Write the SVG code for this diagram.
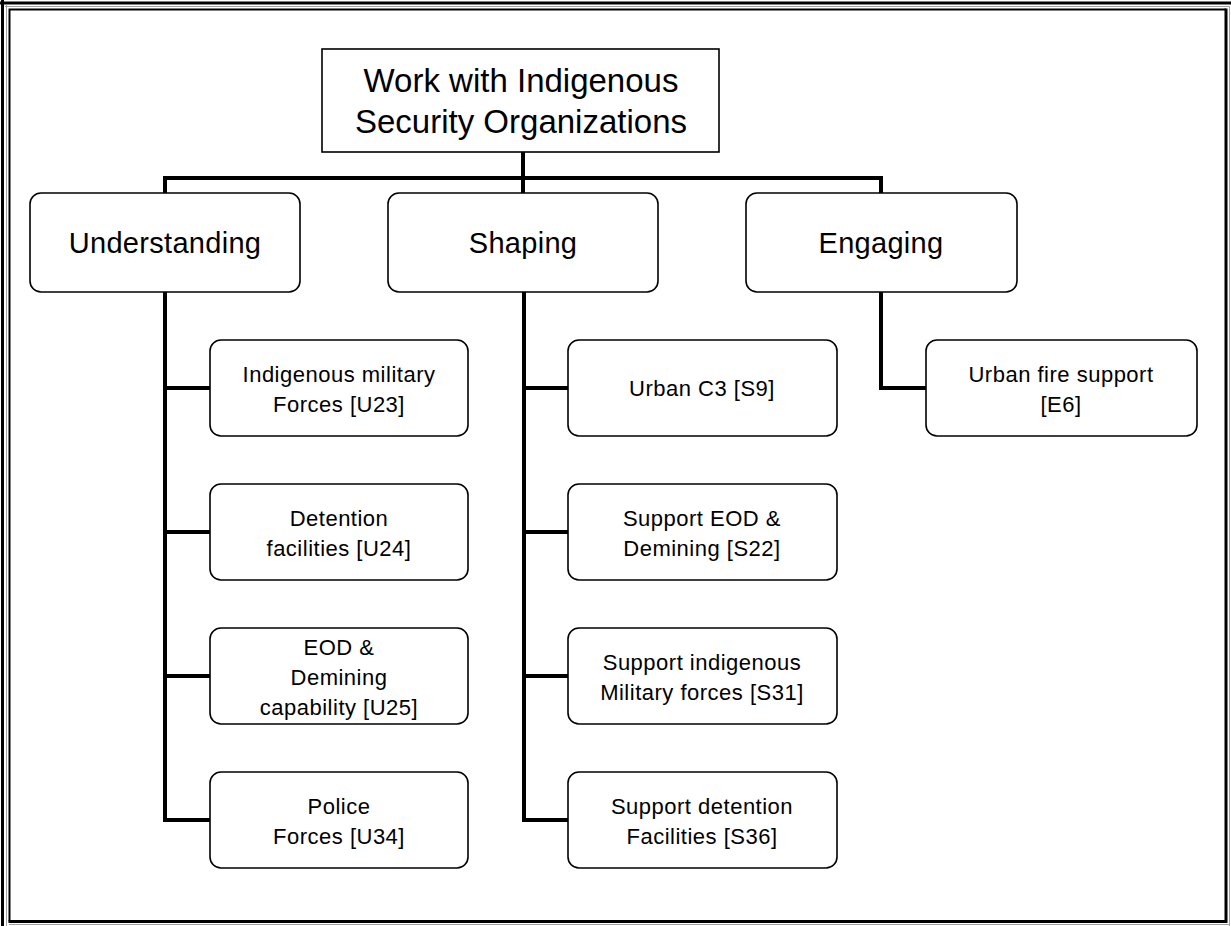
<svg xmlns="http://www.w3.org/2000/svg" width="1231" height="926" viewBox="0 0 1231 926">
<style>
.frame{fill:none;stroke:#000}
.grey{fill:none;stroke:#a0a0a0;stroke-width:1}
.box{fill:#fff;stroke:#000;stroke-width:1.6}
.con{fill:none;stroke:#000;stroke-width:4;stroke-linecap:butt;stroke-linejoin:miter}
text{font-family:"Liberation Sans",Arial,sans-serif;fill:#000;text-anchor:middle}
.t0{font-size:33px}
.t1{font-size:29px;letter-spacing:0.3px}
.t2{font-size:22px;letter-spacing:0.5px}
</style>
<rect width="1231" height="926" fill="#fff"/>
<g id="frame">
<path class="frame" stroke-width="3" d="M0,3 H1231 M2.5,0 V926"/>
<path class="grey" d="M5,6.5 H1229.5 V926 M6.5,5 V926"/>
<path class="frame" stroke-width="2" d="M1226,9.5 H9.5 V921.5"/>
<path class="frame" stroke-width="3" d="M1226,8.5 V921.5 H8.5"/>
<path class="grey" d="M9,924.5 H1229"/>
</g>
<g id="connectors">
<path class="con" d="M523,152 V193"/>
<path class="con" d="M165,193 V178 H881 V193"/>
<path class="con" d="M165,292 V820 H210 M165,388 H210 M165,532 H210 M165,676 H210"/>
<path class="con" d="M524,292 V820 H568 M524,388 H568 M524,532 H568 M524,676 H568"/>
<path class="con" d="M881,292 V388 H926"/>
</g>
<g id="root">
<rect class="box" x="322" y="49" width="397" height="103"/>
<text class="t0" x="521" y="92">Work with Indigenous</text>
<text class="t0" x="521" y="133">Security Organizations</text>
</g>
<g id="understanding">
<rect class="box" x="30" y="193" width="270" height="99" rx="11"/>
<text class="t1" x="165" y="253">Understanding</text>
</g>
<g id="shaping">
<rect class="box" x="388" y="193" width="270" height="99" rx="11"/>
<text class="t1" x="523" y="253">Shaping</text>
</g>
<g id="engaging">
<rect class="box" x="746" y="193" width="271" height="99" rx="11"/>
<text class="t1" x="881" y="253">Engaging</text>
</g>
<g id="u23">
<rect class="box" x="210" y="340" width="258" height="96" rx="11"/>
<text class="t2" x="339" y="382">Indigenous military</text>
<text class="t2" x="339" y="412">Forces [U23]</text>
</g>
<g id="u24">
<rect class="box" x="210" y="484" width="258" height="96" rx="11"/>
<text class="t2" x="339" y="526">Detention</text>
<text class="t2" x="339" y="556">facilities [U24]</text>
</g>
<g id="u25">
<rect class="box" x="210" y="628" width="258" height="96" rx="11"/>
<text class="t2" x="339" y="655">EOD &amp;</text>
<text class="t2" x="339" y="685">Demining</text>
<text class="t2" x="339" y="715">capability [U25]</text>
</g>
<g id="u34">
<rect class="box" x="210" y="772" width="258" height="96" rx="11"/>
<text class="t2" x="339" y="814">Police</text>
<text class="t2" x="339" y="844">Forces [U34]</text>
</g>
<g id="s9">
<rect class="box" x="568" y="340" width="269" height="96" rx="11"/>
<text class="t2" x="702" y="396">Urban C3  [S9]</text>
</g>
<g id="s22">
<rect class="box" x="568" y="484" width="269" height="96" rx="11"/>
<text class="t2" x="702" y="526">Support EOD &amp;</text>
<text class="t2" x="702" y="556">Demining [S22]</text>
</g>
<g id="s31">
<rect class="box" x="568" y="628" width="269" height="96" rx="11"/>
<text class="t2" x="702" y="670">Support indigenous</text>
<text class="t2" x="702" y="700">Military forces [S31]</text>
</g>
<g id="s36">
<rect class="box" x="568" y="772" width="269" height="96" rx="11"/>
<text class="t2" x="702" y="814">Support detention</text>
<text class="t2" x="702" y="844">Facilities [S36]</text>
</g>
<g id="e6">
<rect class="box" x="926" y="340" width="271" height="96" rx="11"/>
<text class="t2" x="1061" y="382">Urban fire support</text>
<text class="t2" x="1061" y="412">[E6]</text>
</g>
</svg>
